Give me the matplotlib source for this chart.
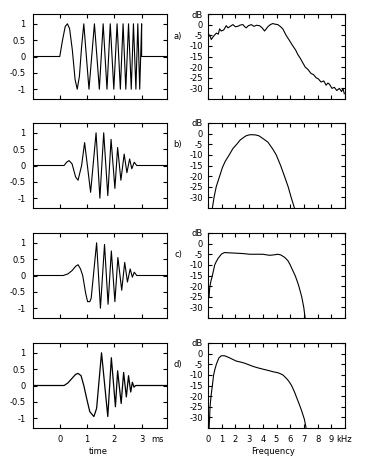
import matplotlib
matplotlib.use("Agg")
import matplotlib.pyplot as plt

# ---------------- data ----------------
time_ticks = [0, 1, 2, 3]
time_tick_labels = ["0", "1", "2", "3"]
amp_ticks = [1, 0.5, 0, -0.5, -1]
amp_tick_labels = ["1", "0.5", "0", "-0.5", "-1"]

freq_ticks = [0, 1, 2, 3, 4, 5, 6, 7, 8, 9, 10]
freq_tick_labels = ["0", "1", "2", "3", "4", "5", "6", "7", "8", "9", ""]
db_ticks = [5, 0, -5, -10, -15, -20, -25, -30]
db_tick_labels = ["dB", "0", "-5", "-10", "-15", "-20", "-25", "-30"]

panel_labels = ["a)", "b)", "c)", "d)"]

# waveforms: time in ms, amplitude
wave_a_t = [-1.0, 0.0, 0.1, 0.2, 0.28, 0.36, 0.46, 0.56, 0.64, 0.72, 0.8, 0.88,
            1.07, 1.27, 1.45, 1.59, 1.73, 1.85, 1.98, 2.10, 2.22, 2.32, 2.42,
            2.52, 2.62, 2.70, 2.79, 2.86, 2.93, 3.0, 3.0, 3.93]
wave_a_y = [0, 0, 0.5, 0.92, 1.0, 0.85, 0.2, -0.7, -1.0, -0.6, 0.3, 1.0,
            -1, 1, -1, 1, -1, 1, -1, 1, -1, 1, -1,
            1, -1, 1, -1, 1, -1, 1, 0, 0]

wave_b_t = [-1.0, 0.16, 0.25, 0.34, 0.45, 0.58, 0.67, 0.8, 0.91, 1.13, 1.33,
            1.47, 1.61, 1.76, 1.88, 2.02, 2.12, 2.24, 2.36, 2.46, 2.56, 2.64,
            2.73, 2.82, 3.93]
wave_b_y = [0, 0, 0.1, 0.15, 0.05, -0.35, -0.45, 0.0, 0.7, -0.82, 1.0,
            -1.0, 1.0, -0.92, 0.8, -0.7, 0.55, -0.45, 0.35, -0.22, 0.2, -0.1,
            0.1, 0, 0]

wave_c_t = [-1.0, 0.13, 0.3, 0.45, 0.58, 0.67, 0.76, 0.84, 0.95, 1.02, 1.1,
            1.15, 1.35, 1.49, 1.64, 1.77, 1.89, 2.02, 2.13, 2.27, 2.38, 2.48,
            2.58, 2.66, 2.73, 2.82, 3.93]
wave_c_y = [0, 0, 0.05, 0.15, 0.28, 0.33, 0.2, 0.0, -0.55, -0.8, -0.8,
            -0.7, 1.0, -1.0, 0.95, -0.88, 0.75, -0.8, 0.55, -0.45, 0.4, -0.2,
            0.2, -0.05, 0.1, 0, 0]

wave_d_t = [-1.0, 0.16, 0.3, 0.45, 0.58, 0.67, 0.78, 0.88, 1.0, 1.1, 1.25,
            1.35, 1.53, 1.76, 1.89, 2.04, 2.12, 2.25, 2.34, 2.44, 2.52, 2.6,
            2.66, 2.72, 2.78, 3.93]
wave_d_y = [0, 0, 0.08, 0.22, 0.34, 0.37, 0.3, 0.0, -0.45, -0.8, -0.95,
            -0.7, 1.0, -0.95, 0.85, -0.65, 0.45, -0.55, 0.4, -0.35, 0.3, -0.2,
            0.1, -0.05, 0, 0]

# spectra: frequency in kHz, level in dB
spec_a_f = [0.05, 0.12, 0.24, 0.4, 0.61, 0.75, 0.85, 0.97, 1.15, 1.33, 1.45,
            1.58, 1.7, 1.82, 2.0, 2.18, 2.35, 2.55, 2.68, 2.79, 2.95, 3.16,
            3.35, 3.55, 3.76, 3.95, 4.13, 4.25, 4.37, 4.55, 4.73, 4.9, 5.1,
            5.3, 5.46, 5.7, 5.95, 6.19, 6.4, 6.55, 6.75, 6.92, 7.1, 7.28, 7.52,
            7.7, 7.89, 8.05, 8.25, 8.45, 8.62, 8.75, 8.86, 9.05, 9.22, 9.4,
            9.59, 9.75, 9.85, 9.95]
spec_a_y = [-5.5, -4.8, -7.0, -5.5, -4.0, -4.5, -2.0, -3.0, -2.5, -0.5, -1.5,
            -1.0, -0.5, 0.0, -1.0, -0.8, -0.2, 0.0, -1.0, -1.5, -0.5, 0.0,
            -0.8, -0.3, -0.5, -1.5, -3.0, -2.0, -1.0, 0.0, 0.5, 0.2, 0.0,
            -1.0, -2.0, -5.0, -7.5, -10.0, -12.0, -14.0, -16.0, -18.0, -20.0, -21.0, -23.0,
            -23.5, -25.0, -25.5, -27.0, -26.5, -28.5, -27.5, -28.0, -30.0, -29.5, -31.0,
            -30.0, -31.5, -30.0, -32.5]

spec_b_f = [0.32, 0.44, 0.6, 0.85, 1.05, 1.26, 1.55, 1.82, 2.1, 2.35, 2.6,
            2.79, 3.0, 3.16, 3.45, 3.71, 4.05, 4.37, 4.7, 4.98, 5.3, 5.58,
            5.85, 6.07, 6.31]
spec_b_y = [-35, -30, -25, -20, -16, -13, -10, -7, -5, -3, -1.8,
            -1.0, -0.6, -0.5, -0.6, -1.0, -2.5, -4.0, -7.0, -10.0, -15.0, -20.0,
            -25.0, -30.0, -35.0]

spec_c_f = [0.08, 0.12, 0.2, 0.32, 0.49, 0.6, 0.73, 0.85, 0.97, 1.1, 1.21,
            1.46, 2.06, 2.6, 3.03, 3.5, 4.0, 4.3, 4.49, 4.8, 5.1, 5.3,
            5.41, 5.6, 5.83, 6.0, 6.14, 6.36, 6.5, 6.63, 6.84, 6.99, 7.09]
spec_c_y = [-25, -21, -18, -15, -10, -8.5, -7, -6, -5, -4.5, -4.2,
            -4.3, -4.5, -4.7, -5.0, -5.0, -5.0, -5.3, -5.5, -5.3, -5.0, -5.3,
            -5.7, -6.5, -8.0, -10.0, -12.0, -15.0, -17.5, -20.0, -25.0, -30.0, -35.0]

spec_d_f = [0.08, 0.12, 0.15, 0.22, 0.32, 0.41, 0.5, 0.61, 0.7, 0.8, 0.97,
            1.21, 1.4, 1.58, 1.8, 2.06, 2.4, 2.67, 3.0, 3.28, 3.7, 4.13,
            4.45, 4.73, 5.1, 5.3, 5.46, 5.7, 5.9, 6.1, 6.31, 6.55, 6.7,
            6.84, 7.04, 7.16]
spec_d_y = [-35, -30, -25, -20, -15, -10, -7.5, -5, -3.5, -2, -1,
            -1, -1.5, -2, -2.7, -3.5, -4.0, -4.5, -5.3, -6.0, -6.8, -7.5,
            -8.0, -8.5, -9.0, -9.5, -10.0, -11.5, -13.0, -15.0, -18.0, -22.0, -24.5,
            -27.0, -31.0, -35.0]

waves = [(wave_a_t, wave_a_y), (wave_b_t, wave_b_y),
         (wave_c_t, wave_c_y), (wave_d_t, wave_d_y)]
spectra = [(spec_a_f, spec_a_y), (spec_b_f, spec_b_y),
           (spec_c_f, spec_c_y), (spec_d_f, spec_d_y)]

# ---------------- figure ----------------
W, H = 366, 468
fig = plt.figure(figsize=(W / 100, H / 100), dpi=100)
plt.rcParams["font.family"] = ["DejaVu Sans"]
FS = 6

panel_tops = [14, 123, 233, 343]
panel_h = 85
left_x0, left_x1 = 32.5, 167
right_x0, right_x1 = 208, 345

def style(ax):
    for s in ax.spines.values():
        s.set_linewidth(0.8)
    ax.tick_params(direction="in", length=3, width=0.8, top=True, right=True,
                   labelsize=FS, pad=3)

for i in range(4):
    top = panel_tops[i]
    bottom = 1 - (top + panel_h) / H
    hfrac = panel_h / H
    axl = fig.add_axes([left_x0 / W, bottom, (left_x1 - left_x0) / W, hfrac])
    axr = fig.add_axes([right_x0 / W, bottom, (right_x1 - right_x0) / W, hfrac])

    t, y = waves[i]
    axl.plot(t, y, color="black", lw=0.8 if i < 3 else 0.9)
    axl.set_xlim(-1.0, 3.93)
    axl.set_ylim(-1.3, 1.3)
    axl.set_xticks(time_ticks)
    axl.set_yticks(amp_ticks)
    axl.set_yticklabels(amp_tick_labels)
    style(axl)
    axl.tick_params(axis="y", pad=5)

    f, d = spectra[i]
    axr.plot(f, d, color="black", lw=0.8)
    axr.set_xlim(0, 10)
    axr.set_ylim(-35, 5)
    axr.set_xticks(freq_ticks)
    axr.set_yticks(db_ticks)
    axr.set_yticklabels(db_tick_labels)
    style(axr)
    axr.tick_params(axis="y", pad=3.5)

    if i < 3:
        axl.set_xticklabels([])
        axr.set_xticklabels([])
    else:
        axl.set_xticklabels(time_tick_labels)
        axr.set_xticklabels(freq_tick_labels)
        axl.tick_params(axis="x", pad=5)
        axr.tick_params(axis="x", pad=5)
        fig.text(157 / W, 1 - 439 / H, "ms", fontsize=FS, ha="center", va="center")
        fig.text(336 / W, 1 - 439 / H, "kHz", fontsize=FS, ha="left", va="center")
        fig.text(98 / W, 1 - 451 / H, "time", fontsize=FS, ha="center", va="center")
        fig.text(273 / W, 1 - 451 / H, "Frequency", fontsize=FS, ha="center", va="center")

    fig.text(178 / W, 1 - (top + 22) / H, panel_labels[i], fontsize=FS,
             ha="center", va="center")

fig.savefig("out.png", dpi=100)
